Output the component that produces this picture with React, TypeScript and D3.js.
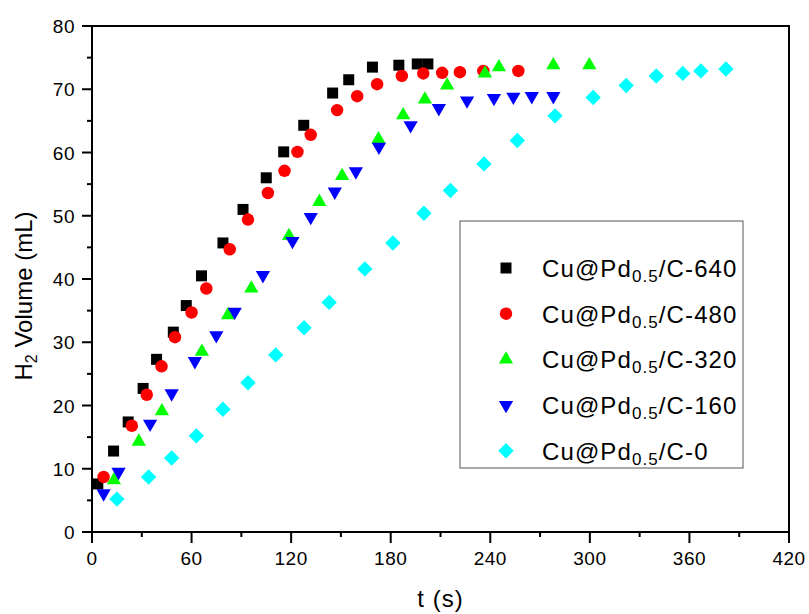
import * as d3 from "d3";
import React from "react";

const t640 = [3.5, 13, 21.8, 30.8, 38.9, 49, 56.8, 66, 78.9, 91, 105, 115.5, 127.6, 145, 154.7, 169, 184.9, 196, 202.4];
const v640 = [7.6, 12.8, 17.4, 22.7, 27.3, 31.6, 35.8, 40.5, 45.7, 51, 56, 60.1, 64.3, 69.4, 71.5, 73.5, 73.8, 74, 74];

const t480 = [7, 24, 33, 41.9, 50, 60, 68.9, 83, 94, 106, 116, 123.8, 131.8, 147.7, 159.8, 171.8, 186.7, 199.6, 211, 221.7, 235.8, 256.9];
const v480 = [8.7, 16.8, 21.7, 26.2, 30.8, 34.7, 38.5, 44.7, 49.4, 53.6, 57.1, 60.1, 62.8, 66.7, 68.9, 70.8, 72.1, 72.5, 72.6, 72.7, 72.9, 72.9];

const t320 = [13.2, 28.2, 42.1, 66.2, 82, 96, 118.7, 137, 150.7, 172.6, 187.5, 200.6, 214, 236.8, 245.2, 278, 299.7];
const v320 = [8.2, 14.3, 19.1, 28.5, 34.3, 38.5, 46.8, 52.2, 56.3, 62.1, 65.9, 68.4, 70.6, 72.5, 73.5, 73.8, 73.8];

const t160 = [7, 16, 35, 48, 62, 74.9, 86, 103, 120.8, 131.8, 146.3, 159, 172.9, 192, 209, 226, 242.2, 253.9, 265, 278];
const v160 = [6.1, 9.5, 17.1, 21.9, 27, 31.1, 34.8, 40.6, 46, 49.8, 53.8, 57, 60.9, 64.3, 67, 68.2, 68.6, 68.8, 68.9, 68.9];

const t0 = [15, 34.1, 48, 62.9, 78.9, 94, 110.7, 127.8, 142.9, 164.4, 181.3, 200, 216, 236.2, 256.3, 279, 302, 321.9, 340, 356, 366.9, 382];
const v0 = [5.2, 8.7, 11.7, 15.2, 19.4, 23.6, 28, 32.3, 36.3, 41.6, 45.7, 50.4, 54, 58.2, 61.9, 65.8, 68.7, 70.6, 72.1, 72.5, 72.9, 73.2];

const seriesNames = ["640", "480", "320", "160", "0"];
const xTicks = [0, 60, 120, 180, 240, 300, 360, 420];
const yTicks = [0, 10, 20, 30, 40, 50, 60, 70, 80];

const series = [
  { name: seriesNames[0], t: t640, v: v640, color: "#000000", shape: "square" },
  { name: seriesNames[1], t: t480, v: v480, color: "#ff0000", shape: "circle" },
  { name: seriesNames[2], t: t320, v: v320, color: "#00ff00", shape: "up" },
  { name: seriesNames[3], t: t160, v: v160, color: "#0000ff", shape: "down" },
  { name: seriesNames[4], t: t0, v: v0, color: "#00ffff", shape: "diamond" },
];

const width = 809;
const height = 614;
const margin = { top: 26, right: 20, bottom: 82, left: 92 };
const font = "'Liberation Sans', Arial, sans-serif";

function symbolPath(shape: string) {
  if (shape === "square") return d3.symbol(d3.symbolSquare, 121)();
  if (shape === "circle") return d3.symbol(d3.symbolCircle, 122)();
  if (shape === "diamond") return d3.symbol(d3.symbolSquare, 118)();
  return d3.symbol(d3.symbolTriangle, 88)();
}
function symbolRot(shape: string) {
  if (shape === "diamond") return 45;
  if (shape === "down") return 180;
  return 0;
}

export default function App() {
  const x = d3.scaleLinear().domain([0, 420]).range([margin.left, width - margin.right]);
  const y = d3.scaleLinear().domain([0, 80]).range([height - margin.bottom, margin.top]);
  const x0 = x(0), x1 = x(420), y0 = y(0), y1 = y(80);

  const xMinor = d3.range(30, 420, 60);
  const yMinor = d3.range(5, 80, 10);

  const legX = 460, legY = 221, legW = 283, legH = 247;

  return (
    <div style={{ position: "absolute", left: 0, top: 0 }}>
      <svg width={width} height={height} style={{ display: "block", background: "#fff" }} fontFamily={font}>
        {/* frame */}
        <rect x={x0} y={y1} width={x1 - x0} height={y0 - y1} fill="none" stroke="#000" strokeWidth={2} />

        {/* x ticks */}
        {xTicks.map((d) => (
          <g key={"xt" + d}>
            <line x1={x(d)} x2={x(d)} y1={y0} y2={y0 + 11} stroke="#000" strokeWidth={2} />
            <text x={x(d)} y={y0 + 33} textAnchor="middle" fontSize={19} fill="#000" letterSpacing={0.5}>{d}</text>
          </g>
        ))}
        {xMinor.map((d) => (
          <line key={"xm" + d} x1={x(d)} x2={x(d)} y1={y0} y2={y0 + 5} stroke="#000" strokeWidth={2} />
        ))}

        {/* y ticks */}
        {yTicks.map((d) => (
          <g key={"yt" + d}>
            <line x1={x0 - 10} x2={x0} y1={y(d)} y2={y(d)} stroke="#000" strokeWidth={2} />
            <text x={x0 - 17} y={y(d) + 7} textAnchor="end" fontSize={19} fill="#000" letterSpacing={0.5}>{d}</text>
          </g>
        ))}
        {yMinor.map((d) => (
          <line key={"ym" + d} x1={x0 - 5} x2={x0} y1={y(d)} y2={y(d)} stroke="#000" strokeWidth={2} />
        ))}

        {/* axis titles */}
        <text x={(x0 + x1) / 2} y={607} textAnchor="middle" fontSize={24} fill="#000" letterSpacing={1}>t (s)</text>
        <text transform={`translate(32,${296}) rotate(-90)`} textAnchor="middle" fontSize={24} fill="#000">
          H<tspan fontSize={16} dy={5}>2</tspan><tspan dy={-5}> Volume (mL)</tspan>
        </text>

        {/* points */}
        {series.map((s) => (
          <g key={s.name} fill={s.color}>
            {s.t.map((t, i) => (
              <path
                key={i}
                d={symbolPath(s.shape) || ""}
                transform={`translate(${x(t)},${y(s.v[i])}) rotate(${symbolRot(s.shape)})`}
              />
            ))}
          </g>
        ))}

        {/* legend */}
        <rect x={legX} y={legY} width={legW} height={legH} fill="#fff" stroke="#555" strokeWidth={1} />
        {series.map((s, i) => {
          const cy = legY + 47 + i * 45.7;
          return (
            <g key={"lg" + s.name}>
              <path
                d={symbolPath(s.shape) || ""}
                fill={s.color}
                transform={`translate(${legX + 46},${cy}) rotate(${symbolRot(s.shape)})`}
              />
              <text x={legX + 82} y={cy + 9} fontSize={24} fill="#000" letterSpacing={1.1}>
                Cu@Pd<tspan fontSize={17} dy={5}>0.5</tspan><tspan dy={-5}>/C-{s.name}</tspan>
              </text>
            </g>
          );
        })}
      </svg>
    </div>
  );
}
